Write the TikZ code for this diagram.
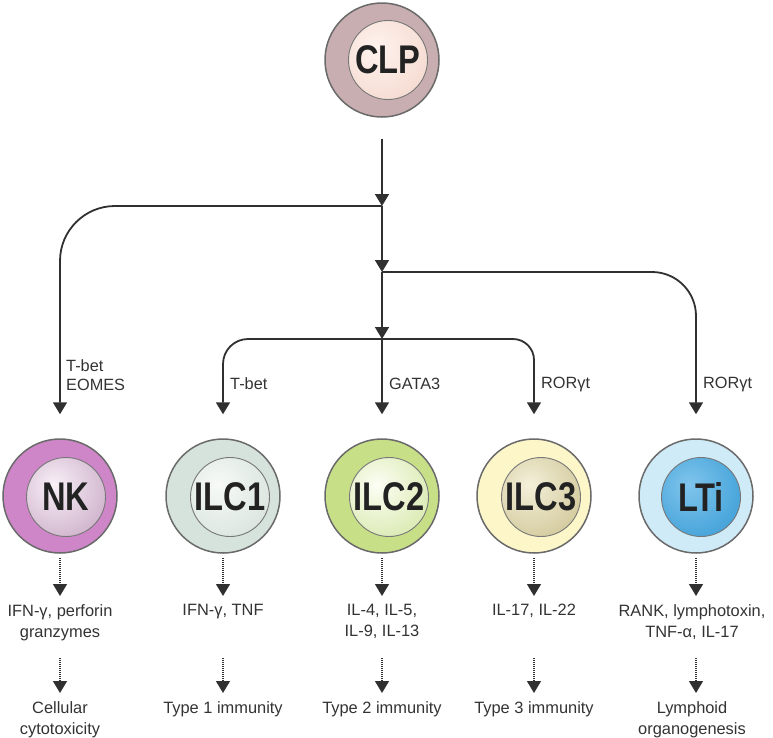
\documentclass[tikz,border=0pt]{standalone}
\usepackage{fontspec}
\setmainfont{Liberation Sans}
\usetikzlibrary{arrows.meta}
\definecolor{ln}{HTML}{303030}
\definecolor{txt}{HTML}{333333}
\definecolor{ctxt}{HTML}{222222}
\definecolor{rimO}{HTML}{6A6A6A}
\definecolor{rimI}{HTML}{777777}
% CLP
\definecolor{clpOa}{HTML}{C8AEB0}\definecolor{clpOb}{HTML}{A2868A}
\definecolor{clpIa}{HTML}{FEF3EE}\definecolor{clpIb}{HTML}{EFCABD}
% NK
\definecolor{nkOa}{HTML}{CF86C9}\definecolor{nkOb}{HTML}{B457AC}
\definecolor{nkIa}{HTML}{F8F0F7}\definecolor{nkIb}{HTML}{B388AE}
% ILC1
\definecolor{iaOa}{HTML}{D5E3DC}\definecolor{iaOb}{HTML}{AEC4B9}
\definecolor{iaIa}{HTML}{F7FAF7}\definecolor{iaIb}{HTML}{C6D6CC}
% ILC2
\definecolor{ibOa}{HTML}{C7E087}\definecolor{ibOb}{HTML}{A2C74E}
\definecolor{ibIa}{HTML}{FCFEF4}\definecolor{ibIb}{HTML}{C2DC84}
% ILC3
\definecolor{icOa}{HTML}{FCF6C8}\definecolor{icOb}{HTML}{F1E38C}
\definecolor{icIa}{HTML}{F4F0DA}\definecolor{icIb}{HTML}{BCAF72}
% LTi
\definecolor{ltOa}{HTML}{CFEBF8}\definecolor{ltOb}{HTML}{A5D4EE}
\definecolor{ltIa}{HTML}{80C5EC}\definecolor{ltIb}{HTML}{1889CB}
\pgfdeclareradialshading{clpO}{\pgfpoint{0bp}{0bp}}{color(0bp)=(clpOa); color(33bp)=(clpOa); color(50bp)=(clpOb); color(100bp)=(clpOb)}
\pgfdeclareradialshading{clpI}{\pgfpoint{-8bp}{8bp}}{color(0bp)=(clpIa); color(58bp)=(clpIb); color(100bp)=(clpIb)}
\pgfdeclareradialshading{nkO}{\pgfpoint{0bp}{0bp}}{color(0bp)=(nkOa); color(33bp)=(nkOa); color(50bp)=(nkOb); color(100bp)=(nkOb)}
\pgfdeclareradialshading{nkI}{\pgfpoint{-8bp}{8bp}}{color(0bp)=(nkIa); color(58bp)=(nkIb); color(100bp)=(nkIb)}
\pgfdeclareradialshading{iaO}{\pgfpoint{0bp}{0bp}}{color(0bp)=(iaOa); color(33bp)=(iaOa); color(50bp)=(iaOb); color(100bp)=(iaOb)}
\pgfdeclareradialshading{iaI}{\pgfpoint{-8bp}{8bp}}{color(0bp)=(iaIa); color(58bp)=(iaIb); color(100bp)=(iaIb)}
\pgfdeclareradialshading{ibO}{\pgfpoint{0bp}{0bp}}{color(0bp)=(ibOa); color(33bp)=(ibOa); color(50bp)=(ibOb); color(100bp)=(ibOb)}
\pgfdeclareradialshading{ibI}{\pgfpoint{-8bp}{8bp}}{color(0bp)=(ibIa); color(58bp)=(ibIb); color(100bp)=(ibIb)}
\pgfdeclareradialshading{icO}{\pgfpoint{0bp}{0bp}}{color(0bp)=(icOa); color(33bp)=(icOa); color(50bp)=(icOb); color(100bp)=(icOb)}
\pgfdeclareradialshading{icI}{\pgfpoint{-8bp}{8bp}}{color(0bp)=(icIa); color(58bp)=(icIb); color(100bp)=(icIb)}
\pgfdeclareradialshading{ltO}{\pgfpoint{0bp}{0bp}}{color(0bp)=(ltOa); color(33bp)=(ltOa); color(50bp)=(ltOb); color(100bp)=(ltOb)}
\pgfdeclareradialshading{ltI}{\pgfpoint{-8bp}{8bp}}{color(0bp)=(ltIa); color(58bp)=(ltIb); color(100bp)=(ltIb)}
\newcommand\celllabel[1]{\scalebox{1.02}[1.25]{\fontsize{32}{36}\selectfont\bfseries #1}}
\begin{document}
\begin{tikzpicture}[x=1pt,y=1pt,
  outercell/.style={circle, minimum size=114pt, inner sep=0pt, shade, draw=rimO, line width=1.5pt},
  innercell/.style={circle, minimum size=79pt, inner sep=0pt, shade, draw=rimI, line width=0.9pt, text=ctxt},
  arr/.style={draw=ln, line width=1.8pt, -{Triangle[width=14pt,length=12pt]}},
  darr/.style={draw=ln, line width=1.3pt, dash pattern=on 1.1pt off 0.9pt, -{Triangle[width=14pt,length=12pt]}},
  lab/.style={font=\fontsize{16.3}{19}\selectfont, text=txt, inner sep=0pt},
  desc/.style={font=\fontsize{16.4}{21}\selectfont, text=txt, inner sep=0pt, align=center, anchor=north}
]
\useasboundingbox (0,0) rectangle (773,-737);

% cells
\node[outercell, shading=clpO] (clp) at (382,-60) {};
\node[innercell, shading=clpI] (clpin) at (388,-60) {\celllabel{CLP}};
\node[outercell, shading=nkO] (nk) at (60,-496) {};
\node[innercell, shading=nkI] (nkin) at (66,-497) {\celllabel{NK}};
\node[outercell, shading=iaO] (ilc1) at (223,-496) {};
\node[innercell, shading=iaI] (ilc1in) at (230,-497) {\celllabel{ILC1}};
\node[outercell, shading=ibO] (ilc2) at (382,-496) {};
\node[innercell, shading=ibI] (ilc2in) at (389,-497) {\celllabel{ILC2}};
\node[outercell, shading=icO] (ilc3) at (534,-496) {};
\node[innercell, shading=icI] (ilc3in) at (541,-497) {\celllabel{ILC3}};
\node[outercell, shading=ltO] (lti) at (696,-496) {};
\node[innercell, shading=ltI] (ltiin) at (701,-497) {\celllabel{LTi}};

% junctions
\coordinate (j1) at (382,-206);
\coordinate (j2) at (382,-272);
\coordinate (j3) at (382,-339);

% main trunk
\draw[arr, shorten <=21pt] (clp.south) -- (j1);
\draw[arr] (j1) -- (j2);
\draw[arr] (j2) -- (j3);
\draw[arr, shorten >=24pt] (j3) -- (ilc2.north);
% branches
\draw[arr, rounded corners=55pt, shorten >=24pt] (j1) -| (nk.north);
\draw[arr, rounded corners=44pt, shorten >=24pt] (j2) -| (lti.north);
\draw[arr, rounded corners=25pt, shorten >=24pt] (j3) -| (ilc1.north);
\draw[arr, rounded corners=21pt, shorten >=24pt] (j3) -| (ilc3.north);

% transcription factor labels
\node[lab, anchor=north west, align=left] (lnk) at (66,-359) {T-bet\\EOMES};
\node[lab, anchor=west] (lilc1) at (230,-384) {T-bet};
\node[lab, anchor=west] (lilc2) at (389,-384) {GATA3};
\node[lab, anchor=west] (lilc3) at (541,-384) {RORγt};
\node[lab, anchor=west] (llti) at (703,-384) {RORγt};

% cytokines
\node[desc] (cnk) at (60,-604) {IFN-γ, perforin\\granzymes};
\node[desc] (cilc1) at (223,-604) {IFN-γ, TNF};
\node[desc] (cilc2) at (382,-604) {IL-4, IL-5,\\IL-9, IL-13};
\node[desc] (cilc3) at (534,-604) {IL-17, IL-22};
\node[desc] (clti) at (692,-604) {RANK, lymphotoxin,\\TNF-α, IL-17};

% functions
\node[desc] (fnk) at (60,-701) {Cellular\\cytotoxicity};
\node[desc] (filc1) at (223,-701) {Type 1 immunity};
\node[desc] (filc2) at (382,-701) {Type 2 immunity};
\node[desc] (filc3) at (534,-701) {Type 3 immunity};
\node[desc] (flti) at (692,-701) {Lymphoid\\organogenesis};

% dotted arrows
\foreach \c/\t/\f in {nk/cnk/fnk, ilc1/cilc1/filc1, ilc2/cilc2/filc2, ilc3/cilc3/filc3, lti/clti/flti}{
  \draw[darr, shorten <=4pt, shorten >=8pt] (\c.south) -- (\c.south |- \t.north);
  \draw[darr, shorten <=54pt, shorten >=8pt] (\c.south |- \t.north) -- (\c.south |- \f.north);
}
\end{tikzpicture}
\end{document}
